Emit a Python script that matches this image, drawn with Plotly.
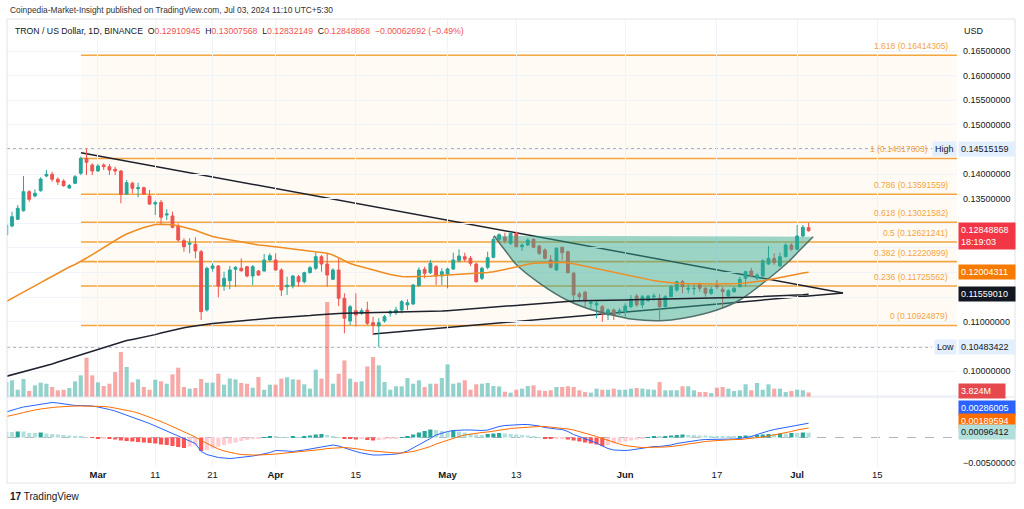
import plotly.graph_objects as go
import pandas as pd

dates = pd.date_range("2024-02-14", periods=141, freq="D")

opens = [0.12763, 0.12945, 0.13081, 0.13256, 0.13642, 0.13555, 0.13662, 0.13961, 0.13996, 0.13894,
         0.13859, 0.13717, 0.13813, 0.14016, 0.14321, 0.14184, 0.14063, 0.14184, 0.1415, 0.14097,
         0.14063, 0.13595, 0.13813, 0.13703, 0.13723, 0.13555, 0.13392, 0.13427, 0.13169, 0.13149,
         0.12945, 0.12647, 0.12574, 0.12574, 0.12423, 0.11239, 0.12086, 0.12133, 0.11727, 0.11834,
         0.12066, 0.12086, 0.12119, 0.1193, 0.12031, 0.12031, 0.12255, 0.12255, 0.12052, 0.11712,
         0.11727, 0.11916, 0.11814, 0.11997, 0.12086, 0.12322, 0.12173, 0.11863, 0.12052, 0.11477,
         0.11016, 0.11225, 0.11172, 0.11239, 0.10981, 0.10914, 0.11016, 0.11172, 0.11184, 0.11239,
         0.11341, 0.11361, 0.11733, 0.12066, 0.11997, 0.12119, 0.1193, 0.1197, 0.12072, 0.12241,
         0.12322, 0.12289, 0.12173, 0.11883, 0.12106, 0.12309, 0.12675, 0.12716, 0.12594, 0.12797,
         0.12525, 0.12559, 0.12675, 0.12539, 0.12458, 0.12255, 0.12052, 0.12513, 0.12423, 0.11985,
         0.11564, 0.11599, 0.11375, 0.11341, 0.11306, 0.11138, 0.11239, 0.11205, 0.11205, 0.11306,
         0.11523, 0.11341, 0.11428, 0.11509, 0.11469, 0.11306, 0.11509, 0.11645, 0.11814, 0.1166,
         0.11672, 0.11761, 0.1168, 0.11578, 0.11741, 0.1166, 0.11523, 0.11611, 0.11712, 0.11883,
         0.12031, 0.11883, 0.1193, 0.12173, 0.12289, 0.12133, 0.12322, 0.12559, 0.12472, 0.12742,
         0.12910945]
highs = [0.13012, 0.13236, 0.13372, 0.13961, 0.13677, 0.13691, 0.13935, 0.14083, 0.14048, 0.13935,
         0.13894, 0.13799, 0.13981, 0.14353, 0.14515, 0.14219, 0.14205, 0.14219, 0.14205, 0.1415,
         0.14083, 0.1388, 0.13845, 0.13825, 0.13744, 0.13677, 0.13459, 0.13474, 0.13285, 0.13236,
         0.13, 0.12696, 0.12696, 0.12716, 0.12458, 0.12119, 0.12188, 0.12153, 0.12017, 0.12133,
         0.12133, 0.12289, 0.12133, 0.12153, 0.12052, 0.12377, 0.12391, 0.12391, 0.12086, 0.11916,
         0.1195, 0.1195, 0.12017, 0.12133, 0.12403, 0.12356, 0.12391, 0.12086, 0.12289, 0.11578,
         0.11341, 0.11578, 0.11274, 0.11408, 0.11103, 0.11071, 0.11138, 0.11239, 0.11306, 0.11442,
         0.11456, 0.11767, 0.12106, 0.12119, 0.12255, 0.12153, 0.12086, 0.12098, 0.12403, 0.12472,
         0.12403, 0.12336, 0.122, 0.12119, 0.12423, 0.12728, 0.12797, 0.12809, 0.1283, 0.1283,
         0.12594, 0.12696, 0.12696, 0.12559, 0.12492, 0.12356, 0.12513, 0.12525, 0.12444, 0.12017,
         0.11611, 0.11631, 0.11442, 0.11428, 0.11341, 0.11274, 0.11274, 0.11274, 0.11375, 0.11544,
         0.11564, 0.11544, 0.11544, 0.11578, 0.11564, 0.11544, 0.11747, 0.11834, 0.11848, 0.11767,
         0.11781, 0.11794, 0.11712, 0.11712, 0.11848, 0.11712, 0.1166, 0.11712, 0.11916, 0.12037,
         0.12098, 0.11985, 0.12269, 0.12539, 0.12391, 0.12403, 0.12594, 0.12594, 0.12966, 0.12966,
         0.13007568]
lows = [0.12716, 0.12919, 0.13067, 0.13236, 0.13439, 0.13528, 0.13642, 0.13935, 0.13845, 0.13778,
        0.13744, 0.13703, 0.13799, 0.13981, 0.13981, 0.13981, 0.14048, 0.14083, 0.13981, 0.13981,
        0.13407, 0.13575, 0.1361, 0.13528, 0.13575, 0.13372, 0.13169, 0.12966, 0.13067, 0.12899,
        0.12626, 0.12423, 0.12391, 0.12289, 0.11036, 0.11205, 0.12017, 0.11497, 0.11631, 0.1166,
        0.11712, 0.12017, 0.11903, 0.11747, 0.1193, 0.12017, 0.1222, 0.12037, 0.11523, 0.11544,
        0.1168, 0.11712, 0.11781, 0.11985, 0.12052, 0.12017, 0.11712, 0.11848, 0.1132, 0.10766,
        0.10934, 0.109, 0.11138, 0.10934, 0.10731, 0.10483, 0.10981, 0.11103, 0.11138, 0.11172,
        0.11239, 0.11341, 0.11712, 0.11883, 0.1197, 0.11747, 0.11747, 0.1168, 0.12052, 0.122,
        0.1222, 0.12133, 0.11794, 0.11848, 0.12066, 0.12289, 0.12606, 0.12594, 0.12559, 0.12513,
        0.12438, 0.12539, 0.12492, 0.12356, 0.12269, 0.12086, 0.12037, 0.12255, 0.11985, 0.11361,
        0.11408, 0.11306, 0.11274, 0.11071, 0.11001, 0.11036, 0.11036, 0.11138, 0.11103, 0.11274,
        0.11306, 0.11274, 0.11408, 0.11428, 0.11036, 0.11294, 0.11497, 0.11611, 0.11578, 0.11578,
        0.11544, 0.11611, 0.11509, 0.11544, 0.1166, 0.11274, 0.11509, 0.11591, 0.117, 0.11712,
        0.11903, 0.11848, 0.11916, 0.12153, 0.12153, 0.12119, 0.12309, 0.12444, 0.12458, 0.12716,
        0.12832149]
closes = [0.12966, 0.13134, 0.13305, 0.13642, 0.13488, 0.1361, 0.139, 0.13996, 0.13894, 0.13839,
          0.13764, 0.13768, 0.13947, 0.14321, 0.14239, 0.14063, 0.14164, 0.1415, 0.14083, 0.14063,
          0.13589, 0.13825, 0.13711, 0.13723, 0.13595, 0.13392, 0.13419, 0.13122, 0.13189, 0.12919,
          0.12661, 0.12525, 0.12594, 0.12438, 0.11205, 0.12086, 0.12133, 0.11727, 0.11883, 0.12052,
          0.12106, 0.12037, 0.1193, 0.12119, 0.1195, 0.12255, 0.12342, 0.12052, 0.11645, 0.11741,
          0.1193, 0.11814, 0.11997, 0.12098, 0.12322, 0.12173, 0.1195, 0.12052, 0.11477, 0.11071,
          0.11306, 0.11138, 0.11225, 0.10969, 0.10928, 0.10981, 0.11103, 0.11205, 0.11239, 0.11408,
          0.11387, 0.11747, 0.12052, 0.11985, 0.12188, 0.1193, 0.12017, 0.12072, 0.12255, 0.12336,
          0.12269, 0.12188, 0.11814, 0.12086, 0.12301, 0.12675, 0.12769, 0.12647, 0.12797, 0.12525,
          0.12559, 0.12661, 0.12513, 0.12391, 0.12289, 0.12106, 0.12492, 0.12403, 0.11997, 0.11544,
          0.11509, 0.11428, 0.11396, 0.11375, 0.11172, 0.11239, 0.11138, 0.11225, 0.1132, 0.11456,
          0.11341, 0.11509, 0.11523, 0.11523, 0.11306, 0.11509, 0.11712, 0.11814, 0.11712, 0.1168,
          0.1168, 0.1168, 0.11578, 0.1166, 0.11712, 0.11611, 0.11631, 0.1168, 0.11863, 0.12017,
          0.1193, 0.1195, 0.12241, 0.12289, 0.122, 0.12322, 0.12559, 0.12472, 0.12742, 0.12919,
          0.12848868]
volumes_m = [12.7, 14.2, 6.2, 15.3, 5.1, 9.9, 12.2, 11.3, 8.5, 5.7,
             6.2, 7.6, 13.3, 18.4, 33.4, 18.4, 12.5, 9.3, 11.3, 21.2,
             38.2, 25.5, 12.5, 15.0, 8.5, 6.2, 14.7, 13.3, 11.3, 19.2,
             24.9, 8.5, 7.1, 7.6, 15.3, 12.2, 12.2, 19.8, 10.5, 15.8,
             15.0, 11.9, 11.3, 7.9, 17.0, 6.2, 10.5, 10.5, 15.6, 16.7,
             15.0, 14.7, 10.8, 7.1, 23.2, 15.6, 80.7, 11.3, 19.8, 31.1,
             15.6, 12.7, 13.3, 26.0, 34.0, 26.9, 12.7, 6.2, 9.1, 9.1,
             16.1, 11.3, 14.2, 8.5, 11.3, 11.3, 16.1, 27.7, 11.3, 12.2,
             14.2, 6.2, 10.8, 11.3, 11.9, 9.3, 9.0, 4.5, 3.7, 6.2,
             7.1, 9.3, 9.9, 5.7, 5.1, 5.7, 8.5, 8.5, 9.1, 8.5,
             5.7, 4.2, 3.7, 7.1, 6.2, 6.2, 7.1, 6.2, 6.2, 7.1,
             7.6, 7.1, 6.5, 6.2, 12.7, 5.7, 5.7, 5.7, 9.1, 9.1,
             5.7, 4.2, 4.2, 3.4, 7.9, 8.5, 7.1, 5.1, 5.7, 10.8,
             5.7, 11.9, 6.2, 10.8, 7.1, 7.1, 4.2, 5.1, 6.2, 5.7,
             3.824]
ma50 = [0.11412, 0.11473, 0.11534, 0.11605, 0.11666, 0.11727, 0.11794, 0.11859, 0.11924, 0.11991,
        0.12052, 0.12113, 0.12163, 0.12224, 0.12295, 0.12366, 0.12438, 0.12509, 0.1258, 0.12661,
        0.12722, 0.12783, 0.12834, 0.12874, 0.12915, 0.12945, 0.12976, 0.12982, 0.1298, 0.1297,
        0.12951, 0.12925, 0.12895, 0.1286, 0.12813, 0.12769, 0.12732, 0.12708, 0.12685, 0.12661,
        0.12641, 0.1262, 0.126, 0.1258, 0.12559, 0.12549, 0.12539, 0.12529, 0.12509, 0.12492,
        0.12478, 0.12462, 0.12448, 0.12431, 0.12417, 0.12403, 0.12391, 0.12356, 0.12295, 0.12234,
        0.12184, 0.12147, 0.12113, 0.12082, 0.12052, 0.12021, 0.11991, 0.1196, 0.11934, 0.1192,
        0.11916, 0.11916, 0.11916, 0.1192, 0.11926, 0.11934, 0.1194, 0.11946, 0.1195, 0.11958,
        0.11966, 0.1197, 0.11976, 0.11983, 0.11999, 0.12017, 0.12035, 0.12062, 0.12088, 0.12117,
        0.12143, 0.12167, 0.12188, 0.12194, 0.12198, 0.122, 0.12202, 0.12202, 0.12198, 0.12178,
        0.12153, 0.12127, 0.12106, 0.12084, 0.12062, 0.12033, 0.12005, 0.11976, 0.1195, 0.11924,
        0.11901, 0.11879, 0.11859, 0.11836, 0.11816, 0.118, 0.11788, 0.11781, 0.11775, 0.11771,
        0.11767, 0.11767, 0.11767, 0.11767, 0.11767, 0.11767, 0.11767, 0.11767, 0.11775, 0.11786,
        0.11798, 0.11816, 0.11834, 0.11853, 0.11873, 0.11893, 0.11911, 0.1194, 0.11966, 0.11991,
        0.12004311]
ma200 = [0.09892, 0.09923, 0.09953, 0.09984, 0.1001, 0.10041, 0.10071, 0.10108, 0.10144, 0.10183,
         0.10219, 0.10256, 0.10293, 0.10329, 0.10372, 0.1041, 0.10449, 0.10485, 0.10522, 0.10557,
         0.10589, 0.10618, 0.1064, 0.10662, 0.10685, 0.10709, 0.10739, 0.1077, 0.108, 0.10829,
         0.10855, 0.10878, 0.10898, 0.10918, 0.10936, 0.10951, 0.10963, 0.10973, 0.10985, 0.10995,
         0.11006, 0.11018, 0.1103, 0.11042, 0.11054, 0.11064, 0.11073, 0.11081, 0.11087, 0.11093,
         0.11099, 0.11103, 0.11113, 0.11125, 0.11138, 0.11148, 0.11158, 0.11164, 0.11168, 0.11172,
         0.11174, 0.11176, 0.11178, 0.11178, 0.1118, 0.11182, 0.11184, 0.11186, 0.11188, 0.1119,
         0.11192, 0.11194, 0.11198, 0.112, 0.11202, 0.11209, 0.11217, 0.11225, 0.11233, 0.11241,
         0.11249, 0.11257, 0.11263, 0.11272, 0.11282, 0.11292, 0.11302, 0.11312, 0.11322, 0.11333,
         0.11343, 0.11353, 0.11361, 0.11369, 0.11379, 0.11387, 0.11396, 0.11404, 0.11414, 0.11422,
         0.11426, 0.1143, 0.11432, 0.11434, 0.11436, 0.11438, 0.1144, 0.11442, 0.11444, 0.11446,
         0.11448, 0.1145, 0.11452, 0.11454, 0.11454, 0.11456, 0.11458, 0.1146, 0.11463, 0.11467,
         0.11469, 0.11471, 0.11473, 0.11477, 0.11479, 0.11481, 0.11485, 0.11487, 0.11493, 0.11497,
         0.11503, 0.11507, 0.11513, 0.11517, 0.11523, 0.11528, 0.11534, 0.1154, 0.11544, 0.1155,
         0.1155901]
macd_line = [0.0051, 0.0055, 0.0058, 0.0061, 0.0063, 0.0065, 0.0067, 0.0069, 0.0070, 0.0069,
             0.0067, 0.0065, 0.0064, 0.0064, 0.0064, 0.0063, 0.0061, 0.0059, 0.0056, 0.0053,
             0.0049, 0.0045, 0.0041, 0.0037, 0.0033, 0.0028, 0.0023, 0.0018, 0.0012, 0.0007,
             0.0003, -0.0002, -0.0007, -0.0012, -0.0028, -0.0034, -0.0037, -0.0040, -0.0041, -0.0042,
             -0.0041, -0.0040, -0.0039, -0.0037, -0.0035, -0.0033, -0.0030, -0.0026, -0.0026, -0.0027,
             -0.0028, -0.0027, -0.0025, -0.0023, -0.0021, -0.0018, -0.0016, -0.0015, -0.0017, -0.0021,
             -0.0025, -0.0028, -0.0031, -0.0033, -0.0035, -0.0035, -0.0035, -0.0034, -0.0033, -0.0031,
             -0.0027, -0.0021, -0.0014, -0.0008, -0.0002, 0.0005, 0.0009, 0.0012, 0.0014, 0.0015,
             0.0015, 0.0015, 0.0014, 0.0014, 0.0015, 0.0019, 0.0022, 0.0024, 0.0025, 0.0025,
             0.0026, 0.0026, 0.0025, 0.0023, 0.0020, 0.0018, 0.0017, 0.0016, 0.0012, 0.0006,
             0.0002, -0.0002, -0.0006, -0.0011, -0.0017, -0.0022, -0.0025, -0.0026, -0.0026, -0.0025,
             -0.0023, -0.0021, -0.0019, -0.0018, -0.0018, -0.0017, -0.0015, -0.0012, -0.0010, -0.0008,
             -0.0006, -0.0005, -0.0004, -0.0004, -0.0004, -0.0004, -0.0004, -0.0003, -0.0002, 0.0000,
             0.0002, 0.0006, 0.0010, 0.0013, 0.0016, 0.0018, 0.0020, 0.0022, 0.0025, 0.0027,
             0.00286005]
signal_line = [0.0042, 0.0044, 0.0047, 0.0050, 0.0053, 0.0055, 0.0057, 0.0059, 0.0060, 0.0061,
               0.0062, 0.0063, 0.0063, 0.0063, 0.0063, 0.0063, 0.0062, 0.0062, 0.0061, 0.0059,
               0.0057, 0.0055, 0.0052, 0.0049, 0.0045, 0.0041, 0.0037, 0.0032, 0.0027, 0.0022,
               0.0017, 0.0012, 0.0006, 0.0001, -0.0006, -0.0012, -0.0018, -0.0023, -0.0027, -0.0030,
               -0.0032, -0.0034, -0.0035, -0.0035, -0.0035, -0.0035, -0.0034, -0.0033, -0.0032, -0.0031,
               -0.0030, -0.0029, -0.0028, -0.0027, -0.0025, -0.0024, -0.0022, -0.0021, -0.0020, -0.0020,
               -0.0021, -0.0022, -0.0024, -0.0026, -0.0027, -0.0029, -0.0030, -0.0031, -0.0031, -0.0031,
               -0.0030, -0.0028, -0.0025, -0.0022, -0.0018, -0.0013, -0.0009, -0.0005, -0.0001, 0.0002,
               0.0005, 0.0007, 0.0009, 0.0010, 0.0011, 0.0013, 0.0015, 0.0016, 0.0018, 0.0019,
               0.0020, 0.0021, 0.0022, 0.0022, 0.0022, 0.0021, 0.0020, 0.0019, 0.0017, 0.0015,
               0.0012, 0.0009, 0.0005, 0.0002, -0.0002, -0.0006, -0.0010, -0.0013, -0.0016, -0.0018,
               -0.0019, -0.0020, -0.0020, -0.0020, -0.0019, -0.0019, -0.0018, -0.0017, -0.0015, -0.0013,
               -0.0011, -0.0009, -0.0008, -0.0007, -0.0006, -0.0005, -0.0005, -0.0004, -0.0004, -0.0003,
               -0.0002, -0.0001, 0.0001, 0.0003, 0.0005, 0.0008, 0.0010, 0.0012, 0.0015, 0.0017,
               0.00189594]
macd_hist = [0.0011, 0.0011, 0.0012, 0.0012, 0.0009, 0.0009, 0.0010, 0.0008, 0.0007, 0.0006,
             0.0005, 0.0004, 0.0003, 0.0002, 0.0001, -0.0001, -0.0002, -0.0002, -0.0003, -0.0004,
             -0.0006, -0.0007, -0.0008, -0.0009, -0.0010, -0.0011, -0.0012, -0.0014, -0.0015, -0.0017,
             -0.0019, -0.0021, -0.0018, -0.0016, -0.0027, -0.0025, -0.0022, -0.0018, -0.0015, -0.0012,
             -0.0010, -0.0007, -0.0005, -0.0003, -0.0002, 0.0001, 0.0003, 0.0002, 0.0001, 0.0001,
             0.0002, 0.0001, 0.0003, 0.0004, 0.0006, 0.0007, 0.0005, 0.0003, 0.0001, -0.0002,
             -0.0003, -0.0004, -0.0003, -0.0005, -0.0006, -0.0005, -0.0004, -0.0003, -0.0002, 0.0001,
             0.0003, 0.0006, 0.0010, 0.0013, 0.0016, 0.0015, 0.0013, 0.0011, 0.0014, 0.0012,
             0.0010, 0.0008, 0.0006, 0.0005, 0.0007, 0.0008, 0.0009, 0.0008, 0.0007, 0.0006,
             0.0005, 0.0004, 0.0003, 0.0001, -0.0002, -0.0003, -0.0002, -0.0002, -0.0004, -0.0006,
             -0.0008, -0.0010, -0.0012, -0.0014, -0.0017, -0.0015, -0.0012, -0.0010, -0.0008, -0.0006,
             -0.0004, -0.0002, 0.0001, 0.0002, 0.0002, 0.0003, 0.0004, 0.0005, 0.0006, 0.0005,
             0.0005, 0.0004, 0.0004, 0.0003, 0.0003, 0.0002, 0.0002, 0.0002, 0.0003, 0.0004,
             0.0004, 0.0005, 0.0006, 0.0007, 0.0007, 0.0008, 0.0008, 0.0009, 0.0009, 0.0010,
             0.00096412]

fib_ratios = ["1.618", "1", "0.786", "0.618", "0.5", "0.382", "0.236", "0"]
fib_prices = [0.16414305, 0.14317603, 0.13591559, 0.13021582, 0.12621241, 0.12220899, 0.11725562, 0.10924879]
fib_start = "2024-02-27 01:00"

high_price = 0.14515159
low_price = 0.10483422
last_close = 0.12848868
ma50_last = 0.12004311
ma200_last = 0.11559010
vol_last = "3.824M"

trend_down_x = ["2024-02-27 01:00", "2024-07-09 00:00"]
trend_down_y = [0.14434, 0.11584]
trend_up_x = ["2024-04-18 00:00", "2024-07-09 00:00"]
trend_up_y = [0.10752, 0.11584]

cup_x = ["2024-05-09 02:00", "2024-05-11 00:00", "2024-05-13 02:00", "2024-05-17 02:00",
         "2024-05-21 19:00", "2024-05-25 07:00", "2024-05-28 12:00", "2024-06-02 10:00",
         "2024-06-07 02:00", "2024-06-11 02:00", "2024-06-17 00:00", "2024-06-21 00:00",
         "2024-06-25 17:00", "2024-06-29 05:00", "2024-07-01 12:00", "2024-07-03 19:00"]
cup_y = [0.12748, 0.12458, 0.12153, 0.11781, 0.11442, 0.11274, 0.11172, 0.1105,
         0.11022, 0.11071, 0.11239, 0.11442, 0.11848, 0.12188, 0.12458, 0.12728]

x_tick_dates = ["2024-03-01", "2024-03-11", "2024-03-21", "2024-04-01", "2024-04-15", "2024-05-01",
                "2024-05-13", "2024-06-01", "2024-06-17", "2024-07-01", "2024-07-15"]
x_tick_text = ["<b>Mar</b>", "11", "21", "<b>Apr</b>", "15", "<b>May</b>", "13", "<b>Jun</b>", "17", "<b>Jul</b>", "15"]
price_ticks = [0.095, 0.100, 0.105, 0.110, 0.115, 0.120, 0.125, 0.130, 0.135, 0.140, 0.145, 0.150, 0.155, 0.160, 0.165]
hidden_price_ticks = [0.095, 0.105, 0.115, 0.120, 0.125, 0.130, 0.145]   # covered by tags in the original
macd_ticks = [0.0, -0.005]

# ---------- layout geometry ----------
W, H = 1024, 509
ML, MR, MT, MB = 7, 67, 20, 42
PW, PH = W - ML - MR, H - MT - MB
SPLIT = 70 / PH
X_RANGE = ["2024-02-14 03:00", "2024-07-28 21:30"]
FONT = "Liberation Sans, Arial, sans-serif"
TXT = "#131722"
FIB_COL = "#F2A541"


def px_x(px):
    return (px - ML) / PW


def px_y(py):
    return (H - MB - py) / PH


green, red = "#26a69a", "#ef5350"
vol_colors = ["rgba(38,166,154,0.5)" if c >= o else "rgba(239,83,80,0.5)" for o, c in zip(opens, closes)]
hist_colors = []
for i, h in enumerate(macd_hist):
    prev = macd_hist[i - 1] if i > 0 else h
    if h >= 0:
        hist_colors.append("#26a69a" if h > prev else "#b2dfdb")
    else:
        hist_colors.append("#ff5252" if h < prev else "#ffcdd2")

fig = go.Figure()

fig.add_trace(go.Bar(x=dates, y=volumes_m, marker_color=vol_colors, marker_line_width=0,
                     width=0.72 * 86400000, xaxis="x", yaxis="y", hoverinfo="skip"))
fig.add_trace(go.Scatter(x=cup_x, y=cup_y, mode="lines", line=dict(color="#51726c", width=1.5, shape="spline"),
                         fill="toself", fillcolor="rgba(45,170,145,0.48)", xaxis="x", yaxis="y2", hoverinfo="skip"))
fig.add_trace(go.Scatter(x=dates, y=ma200, mode="lines", line=dict(color="#1e222d", width=1.5),
                         xaxis="x", yaxis="y2", hoverinfo="skip"))
fig.add_trace(go.Scatter(x=dates, y=ma50, mode="lines", line=dict(color="#F08C21", width=1.5),
                         xaxis="x", yaxis="y2", hoverinfo="skip"))
fig.add_trace(go.Candlestick(x=dates, open=opens, high=highs, low=lows, close=closes,
                             increasing=dict(line=dict(color=green, width=1), fillcolor=green),
                             decreasing=dict(line=dict(color=red, width=1), fillcolor=red),
                             whiskerwidth=0, xaxis="x", yaxis="y2", hoverinfo="skip"))
fig.add_trace(go.Bar(x=dates, y=macd_hist, marker_color=hist_colors, marker_line_width=0,
                     width=0.72 * 86400000, xaxis="x2", yaxis="y3", hoverinfo="skip"))
fig.add_trace(go.Scatter(x=dates, y=macd_line, mode="lines", line=dict(color="#2962FF", width=1),
                         xaxis="x2", yaxis="y3", hoverinfo="skip"))
fig.add_trace(go.Scatter(x=dates, y=signal_line, mode="lines", line=dict(color="#FF6D00", width=1),
                         xaxis="x2", yaxis="y3", hoverinfo="skip"))

shapes = []
shapes.append(dict(type="rect", xref="x", yref="y2", x0=fib_start, x1=X_RANGE[1],
                   y0=fib_prices[-1], y1=fib_prices[0], fillcolor="rgba(255,170,60,0.06)",
                   line=dict(width=0), layer="below"))
for p in fib_prices:
    shapes.append(dict(type="line", xref="x", yref="y2", x0=fib_start, x1=X_RANGE[1], y0=p, y1=p,
                       line=dict(color=FIB_COL, width=1.6), layer="below"))
for p in (high_price, low_price):
    shapes.append(dict(type="line", xref="paper", yref="y2", x0=0, x1=px_x(932), y0=p, y1=p,
                       line=dict(color="#9598a1", width=1, dash="dot"), layer="below"))
for tx, ty in ((trend_down_x, trend_down_y), (trend_up_x, trend_up_y)):
    shapes.append(dict(type="line", xref="x", yref="y2", x0=tx[0], x1=tx[1], y0=ty[0], y1=ty[1],
                       line=dict(color="#1e222d", width=1.5), layer="below"))
shapes.append(dict(type="line", xref="paper", yref="y3", x0=0, x1=1, y0=0, y1=0,
                   line=dict(color="#b2b5be", width=1, dash="dash"), layer="below"))
shapes.append(dict(type="line", xref="paper", yref="paper", x0=0, x1=px_x(1015), y0=SPLIT, y1=SPLIT,
                   line=dict(color="#e0e3eb", width=1)))
shapes.append(dict(type="rect", xref="paper", yref="paper", x0=0, x1=px_x(1015), y0=px_y(483), y1=px_y(19),
                   line=dict(color="#e0e3eb", width=1), fillcolor="rgba(0,0,0,0)"))

ann = []
ann.append(dict(xref="paper", yref="paper", x=px_x(8), y=px_y(10), xanchor="left", yanchor="middle",
                text="Coinpedia-Market-Insight published on TradingView.com, Jul 03, 2024 11:10 UTC+5:30",
                showarrow=False, font=dict(family=FONT, size=8.4, color="#333")))
rc = "#ef5350"
sp = "\u00a0\u00a0"
legend_txt = ("TRON / US Dollar, 1D, BINANCE" + sp +
              f"O<span style='color:{rc}'>{opens[-1]:.8f}</span>" + sp +
              f"H<span style='color:{rc}'>{highs[-1]:.8f}</span>" + sp +
              f"L<span style='color:{rc}'>{lows[-1]:.8f}</span>" + sp +
              f"C<span style='color:{rc}'>{closes[-1]:.8f}</span>" + sp +
              f"<span style='color:{rc}'>\u22120.00062692 (\u22120.49%)</span>")
ann.append(dict(xref="paper", yref="paper", x=px_x(13), y=px_y(31), xanchor="left", yanchor="middle",
                text=legend_txt, showarrow=False, font=dict(family=FONT, size=8.7, color=TXT)))
ann.append(dict(xref="paper", yref="paper", x=px_x(962), y=px_y(31), xanchor="left", yanchor="middle",
                text="USD", showarrow=False, font=dict(family=FONT, size=9, color=TXT)))
for r, p in zip(fib_ratios, fib_prices):
    right_px = 930 if r == "1" else 950   # keep the "1" label clear of the High tag
    ann.append(dict(xref="paper", yref="y2", x=px_x(right_px), y=p, xanchor="right", yanchor="bottom", yshift=2,
                    text=f"{r} ({p:.8f})", showarrow=False, font=dict(family=FONT, size=8.5, color=FIB_COL)))
for lbl, p in (("High", high_price), ("Low", low_price)):
    ann.append(dict(xref="paper", yref="y2", x=px_x(957), y=p, xanchor="right", yanchor="middle",
                    text=lbl, showarrow=False, bgcolor="#e3effd", borderpad=2,
                    font=dict(family=FONT, size=9, color=TXT)))
    ann.append(dict(xref="paper", yref="y2", x=px_x(958), y=p, xanchor="left", yanchor="middle",
                    text=f"{p:.8f}", showarrow=False, bgcolor="#e3effd", borderpad=2, width=52, align="left",
                    font=dict(family=FONT, size=9, color=TXT)))


def axis_tag(py, text, bg, fg="white", width=52):
    return dict(xref="paper", yref="paper", x=px_x(958), y=px_y(py), xanchor="left", yanchor="middle",
                text=text, showarrow=False, bgcolor=bg, borderpad=2, width=width, align="left",
                font=dict(family=FONT, size=9, color=fg))


ann.append(axis_tag(236, f"{last_close:.8f}<br>18:19:03", "#f23645"))
ann.append(axis_tag(272, f"{ma50_last:.8f}", "#F57C00"))
ann.append(axis_tag(294, f"{ma200_last:.8f}", "#131722"))
ann.append(axis_tag(391, vol_last, "#e5484d", width=42))
ann.append(axis_tag(408, f"{macd_line[-1]:.8f}", "#2962FF"))
ann.append(axis_tag(421, f"{signal_line[-1]:.8f}", "#FF6D00"))
ann.append(axis_tag(432, f"{macd_hist[-1]:.8f}", "#b2dfdb", fg=TXT))
ann.append(dict(xref="paper", yref="paper", x=px_x(8), y=px_y(497), xanchor="left", yanchor="middle",
                text="<b>17</b> TradingView", showarrow=False, font=dict(family=FONT, size=10, color=TXT)))

grid = "#f0f3fa"
price_text = ["" if v in hidden_price_ticks else f"{v:.8f}" for v in price_ticks]
fig.update_layout(
    width=W, height=H, margin=dict(l=ML, r=MR, t=MT, b=MB),
    paper_bgcolor="white", plot_bgcolor="white", showlegend=False, hovermode=False,
    shapes=shapes, annotations=ann,
    xaxis=dict(domain=[0, 1], anchor="y", type="date", range=X_RANGE, tickvals=x_tick_dates,
               showticklabels=False, showgrid=True, gridcolor=grid, zeroline=False,
               rangeslider=dict(visible=False), fixedrange=True),
    xaxis2=dict(domain=[0, 1], anchor="y3", type="date", range=X_RANGE, matches="x",
                tickvals=x_tick_dates, ticktext=x_tick_text, showgrid=True, gridcolor=grid,
                tickfont=dict(family=FONT, size=9.5, color=TXT), ticks="", zeroline=False,
                rangeslider=dict(visible=False)),
    yaxis=dict(domain=[SPLIT, 1], anchor="x", range=[0, 377 * 0.85], visible=False, fixedrange=True),
    yaxis2=dict(domain=[SPLIT, 1], anchor="x", overlaying="y", side="right",
                range=[0.1 - 26 / 4923, 0.1 + 351 / 4923], tickvals=price_ticks,
                ticktext=price_text, showgrid=True, gridcolor=grid,
                zeroline=False, ticks="", ticklabelstandoff=5,
                tickfont=dict(family=FONT, size=9, color=TXT)),
    yaxis3=dict(domain=[0, SPLIT], anchor="x2", side="right", range=[-0.0059, 0.0081],
                tickvals=macd_ticks, ticktext=["", "\u22120.00500000"], showgrid=False,
                zeroline=False, ticks="", ticklabelstandoff=5,
                tickfont=dict(family=FONT, size=9, color=TXT)),
)

fig.write_html("out.html", config={"displayModeBar": False},
               post_script="document.body.style.margin='0px';document.body.style.overflow='hidden';")
